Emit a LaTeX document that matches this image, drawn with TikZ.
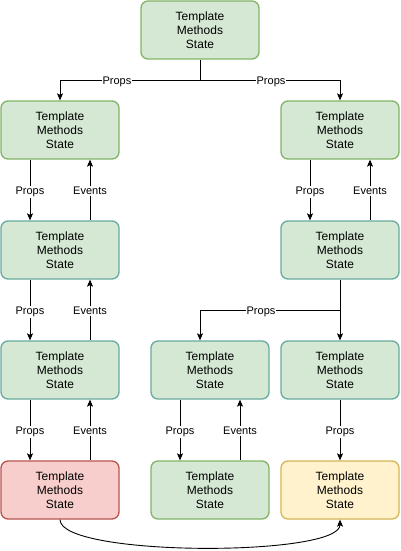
\documentclass[tikz,border=0pt]{standalone}
\usepackage{fontspec}
\setmainfont{Liberation Sans}
\usetikzlibrary{arrows.meta}
\definecolor{gfill}{HTML}{D5E8D4}
\definecolor{gline}{HTML}{82B366}
\definecolor{tline}{HTML}{67AB9F}
\definecolor{rfill}{HTML}{F8CECC}
\definecolor{rline}{HTML}{B85450}
\definecolor{yfill}{HTML}{FFF2CC}
\definecolor{yline}{HTML}{D6B656}
\tikzset{
  box/.style={draw, line width=1.3pt, rounded corners=7pt, minimum width=118pt, minimum height=58pt,
    align=center, inner sep=0pt, font=\fontsize{12}{14}\selectfont},
  gbox/.style={box, fill=gfill, draw=gline},
  tbox/.style={box, fill=gfill, draw=tline},
  conn/.style={line width=0.9pt, -{Stealth[length=7pt,width=6pt,inset=1.5pt]}},
  seg/.style={line width=0.9pt},
  lbl/.style={fill=white, inner sep=1pt, yshift=-2pt, font=\fontsize{11}{13}\selectfont}
}
\begin{document}
\begin{tikzpicture}[x=1pt,y=-1pt]
\useasboundingbox (0,0) rectangle (401,551);
\def\txt{Template\\Methods\\State}
\node[gbox] (top) at (200,30) {\txt};
\node[gbox] (l1) at (60,130) {\txt};
\node[gbox] (r1) at (340,130) {\txt};
\node[tbox] (l2) at (60,250) {\txt};
\node[tbox] (r2) at (340,250) {\txt};
\node[tbox] (l3) at (60,370) {\txt};
\node[tbox] (m3) at (210,370) {\txt};
\node[tbox] (r3) at (340,370) {\txt};
\node[box, fill=rfill, draw=rline] (l4) at (60,490) {\txt};
\node[gbox] (m4) at (210,490) {\txt};
\node[box, fill=yfill, draw=yline] (r4) at (340,490) {\txt};

\coordinate (tj) at (200,80);
\draw[seg] (top.south) -- (tj);
\draw[conn] (tj) -| (l1.north);
\draw[conn] (tj) -| (r1.north);
\node[lbl] at (117,80) {Props};
\node[lbl] at (271,80) {Props};

% left column
\foreach \a/\b in {l1/l2, l2/l3, l3/l4}{
  \draw[conn] ([xshift=-30pt]\a.south) -- node[lbl, pos=0.5] {Props} ([xshift=-30pt]\b.north);
  \draw[conn] ([xshift=30pt]\b.north) -- node[lbl, pos=0.52] {Events} ([xshift=30pt]\a.south);
}
% right column top
\draw[conn] ([xshift=-30pt]r1.south) -- node[lbl] {Props} ([xshift=-30pt]r2.north);
\draw[conn] ([xshift=30pt]r2.north) -- node[lbl, pos=0.52] {Events} ([xshift=30pt]r1.south);

% r2 to row3
\coordinate (rj) at (340,310);
\draw[conn] (r2.south) -- (r3.north);
\draw[conn] (rj) -| ([xshift=-10pt]m3.north);
\node[lbl] at (261,310) {Props};

% m3 to m4
\draw[conn] ([xshift=-30pt]m3.south) -- node[lbl] {Props} ([xshift=-30pt]m4.north);
\draw[conn] ([xshift=30pt]m4.north) -- node[lbl, pos=0.52] {Events} ([xshift=30pt]m3.south);

% r3 to r4
\draw[conn] (r3.south) -- node[lbl] {Props} (r4.north);

% bottom curve
\draw[conn] (l4.south) .. controls (60,557) and (340,557) .. (r4.south);
\end{tikzpicture}
\end{document}
